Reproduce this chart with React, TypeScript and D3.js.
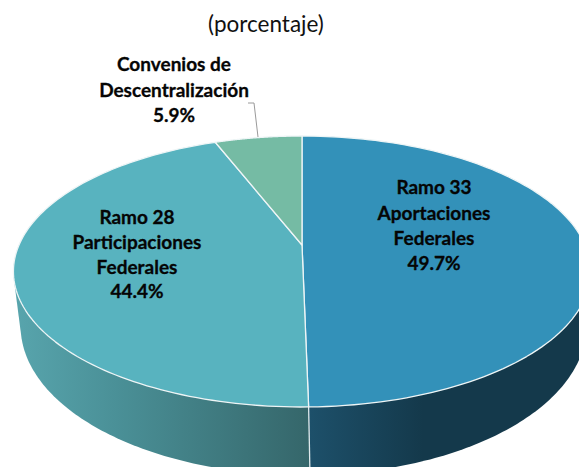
import React from "react";
import * as d3 from "d3";

const categories = ["Ramo 33 Aportaciones Federales", "Ramo 28 Participaciones Federales", "Convenios de Descentralización"];
const shares = [49.7, 44.4, 5.9];
const shareLabels = ["49.7%", "44.4%", "5.9%"];
const labelLines = [
  ["Ramo 33", "Aportaciones", "Federales"],
  ["Ramo 28", "Participaciones", "Federales"],
  ["Convenios de", "Descentralización"],
];
const topColors = ["#3391B9", "#58B3BF", "#75BBA4"];
const title = "(porcentaje)";

const W = 579, H = 467;
const FONT = "Lato, Carlito, sans-serif";
const TILT = 0.1956;

type Disk = { cx: number; cy: number; rx: number; ry: number };
const topDisk: Disk = { cx: 302, cy: 245, rx: 283, ry: 130.3 };
const baseDisk: Disk = { cx: 303.5, cy: 297, rx: 277.4, ry: 143.3 };

const project = (d: Disk, radius: number, a: number): [number, number] => {
  const u = radius * Math.sin(a), v = -radius * Math.cos(a);
  const den = 1 - TILT * v;
  return [d.cx + (d.rx * u) / den, d.cy + (d.ry * v) / den];
};
const rim = (d: Disk, a0: number, a1: number) =>
  d3.range(0, 121).map((i) => project(d, 1, a0 + ((a1 - a0) * i) / 120));

const line = d3.line();
const arcs = d3.pie<number>().sort(null)(shares);
const wedge = (a0: number, a1: number) => line([[topDisk.cx, topDisk.cy], ...rim(topDisk, a0, a1)])! + "Z";
const side = (a0: number, a1: number) => {
  const hull = d3.polygonHull([...rim(topDisk, a0, a1), ...rim(baseDisk, a0, a1)] as [number, number][]);
  return line(hull!)! + "Z";
};

const split = arcs[0].endAngle;
const blueSide = side(split - 1.9, split);
const tealSide = side(split, split + 1.9);
const splitTop = project(topDisk, 1, split);
const splitBase = project(baseDisk, 1, split);

const labelStyle: React.SVGProps<SVGTextElement> = {
  fontFamily: FONT,
  fontWeight: 700,
  fontSize: 19,
  textAnchor: "middle",
  fill: "#050505",
  stroke: "#050505",
  strokeWidth: 0.3,
};

export default function App() {
  return (
    <svg width={W} height={H} viewBox={`0 0 ${W} ${H}`} style={{ position: "absolute", left: 0, top: 0, background: "#fff" }}>
      <defs>
        <linearGradient id="tealSide" gradientUnits="userSpaceOnUse" x1={13} x2={310} y1={0} y2={0}>
          <stop offset="0" stopColor="#58A5AD" />
          <stop offset="0.35" stopColor="#4A9097" />
          <stop offset="1" stopColor="#35666A" />
        </linearGradient>
        <linearGradient id="blueSide" gradientUnits="userSpaceOnUse" x1={310} x2={579} y1={0} y2={0}>
          <stop offset="0" stopColor="#1D506A" />
          <stop offset="0.42" stopColor="#14394B" />
          <stop offset="1" stopColor="#14394B" />
        </linearGradient>
      </defs>

      <path d={tealSide} fill="url(#tealSide)" />
      <path d={blueSide} fill="url(#blueSide)" />
      <line x1={splitTop[0]} y1={splitTop[1]} x2={splitBase[0]} y2={splitBase[1]} stroke="#dfe9ec" strokeWidth={1.3} />

      {arcs.map((a, i) => (
        <path
          key={categories[i]}
          d={wedge(a.startAngle, a.endAngle)}
          fill={topColors[i]}
          stroke="#eef5f6"
          strokeWidth={1.3}
          strokeLinejoin="round"
        />
      ))}

      <polyline points="248,103 254,103 258,137" fill="none" stroke="#9a9a9a" strokeWidth={1} />

      <text x={266} y={32} fontFamily={FONT} fontSize={22.5} textAnchor="middle" fill="#111">{title}</text>

      <g {...(labelStyle as any)}>
        {labelLines[0].map((t, i) => (
          <text key={t} x={434} y={[194, 220, 245][i]}>{t}</text>
        ))}
        <text x={434} y={270}>{shareLabels[0]}</text>
        {labelLines[1].map((t, i) => (
          <text key={t} x={137} y={[224, 249, 274][i]}>{t}</text>
        ))}
        <text x={137} y={298}>{shareLabels[1]}</text>
        {labelLines[2].map((t, i) => (
          <text key={t} x={174} y={[71, 97][i]}>{t}</text>
        ))}
        <text x={174} y={122}>{shareLabels[2]}</text>
      </g>
    </svg>
  );
}
